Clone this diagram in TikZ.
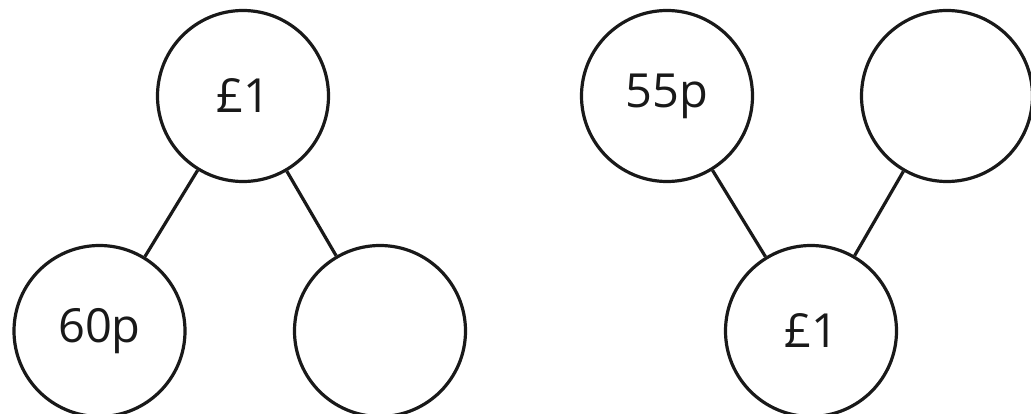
\documentclass[tikz,border=0pt]{standalone}
\usepackage{fontspec}
\setmainfont{Open Sans}
\begin{document}
\begin{tikzpicture}[x=1pt,y=-1pt,
  bubble/.style={draw=black!90, line width=3.2pt, circle, minimum size=171pt, inner sep=0pt, font=\fontsize{47}{50}\selectfont, text=black!90},
  link/.style={draw=black!90, line width=3.2pt}]
\useasboundingbox (0,0) rectangle (1031,414);
\clip (0,0) rectangle (1031,414);
% left diagram
\node[bubble] (ltop) at (243,96) {£1};
\node[bubble] (lbl) at (99.5,331) {60p};
\node[bubble] (lbr) at (380,331) {};
\draw[link] (ltop) -- (lbl);
\draw[link] (ltop) -- (lbr);
% right diagram
\node[bubble] (rtl) at (667,96) {55p};
\node[bubble] (rtr) at (947,96) {};
\node[bubble] (rbot) at (811,331) {£1};
\draw[link] (rbot) -- (rtl);
\draw[link] (rbot) -- (rtr);
\end{tikzpicture}
\end{document}
